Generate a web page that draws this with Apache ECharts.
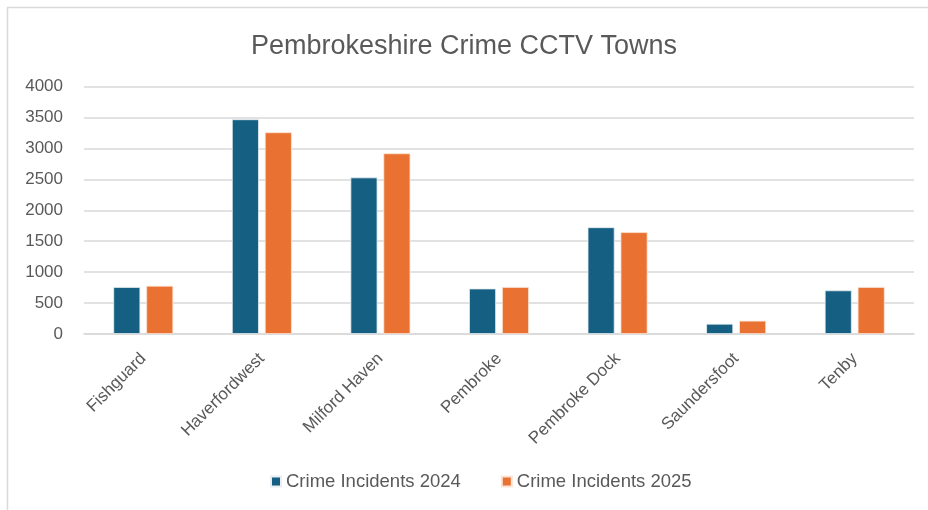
<!DOCTYPE html>
<html>
<head>
<meta charset="utf-8">
<script src="https://cdn.jsdelivr.net/npm/echarts@6/dist/echarts.min.js"></script>
<style>
html,body{margin:0;padding:0;background:#fff;}
#c{width:928px;height:510px;}
</style>
</head>
<body>
<div id="c"></div>
<script>
const titleText = 'Pembrokeshire Crime CCTV Towns';
const categories = ['Fishguard','Haverfordwest','Milford Haven','Pembroke','Pembroke Dock','Saundersfoot','Tenby'];
const seriesNames = ['Crime Incidents 2024','Crime Incidents 2025'];
const incidents2024 = [760, 3470, 2530, 735, 1725, 165, 705];
const incidents2025 = [780, 3260, 2920, 760, 1645, 215, 760];
const yTicks = [0, 500, 1000, 1500, 2000, 2500, 3000, 3500, 4000];

const sans = '"Liberation Sans", Arial, sans-serif';

const chart = echarts.init(document.getElementById('c'), null, {renderer:'canvas'});
chart.setOption({
  backgroundColor:'#ffffff',
  animation:false,
  graphic:[{
    type:'rect', silent:true,
    shape:{x:7.5,y:7.5,width:1000,height:1000},
    style:{fill:'none',stroke:'#d9d9d9',lineWidth:1.5}
  }],
  title:{
    text:titleText, left:'center', top:28,
    textStyle:{fontFamily:sans,fontSize:27,fontWeight:'normal',color:'#595959'}
  },
  legend:{
    data:seriesNames, bottom:14, left:265,
    itemWidth:10,itemHeight:10,itemGap:40,icon:'rect',
    textStyle:{fontFamily:sans,fontSize:18.5,color:'#595959'}
  },
  grid:{left:84,right:14,top:86.5,bottom:176,containLabel:false},
  xAxis:{
    type:'category', data:categories,
    axisLine:{lineStyle:{color:'#d9d9d9',width:1.5}},
    axisTick:{show:false},
    axisLabel:{rotate:45,margin:22,fontFamily:sans,fontSize:17,color:'#595959',interval:0}
  },
  yAxis:{
    type:'value', min:yTicks[0], max:yTicks[yTicks.length-1], interval:500,
    axisLine:{show:false}, axisTick:{show:false},
    splitLine:{lineStyle:{color:'#d9d9d9',width:1.5}},
    axisLabel:{margin:21,fontFamily:sans,fontSize:17,color:'#595959',formatter:function(v){return String(v);}}
  },
  series:[
    {name:seriesNames[0],type:'bar',data:incidents2024,barWidth:27,barGap:'22%',
     itemStyle:{color:'#156082',borderColor:'#e8eef2',borderWidth:0.8}},
    {name:seriesNames[1],type:'bar',data:incidents2025,barWidth:27,
     itemStyle:{color:'#E97132',borderColor:'#fbe4d6',borderWidth:0.8}}
  ]
});
</script>
</body>
</html>
